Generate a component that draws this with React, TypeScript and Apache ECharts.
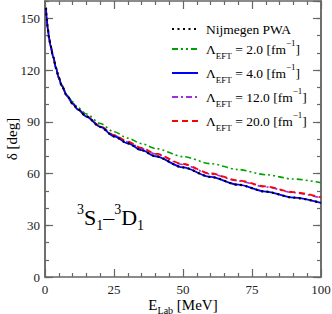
import React, { useEffect, useRef } from 'react';
import * as echarts from 'echarts';

const energies = [0.35, 0.6, 1, 1.5, 2, 3, 4, 5, 6, 8, 10, 12, 15, 20, 25, 30, 35, 40, 50, 60, 70, 80, 90, 100];
const nijmegen = [156, 150, 144, 138.5, 134, 127.5, 121, 115.5, 111, 105, 100.5, 97, 93, 87, 81.5, 77.5, 73.5, 70, 63.5, 58, 53.5, 49.5, 46, 43];
const lam2 = [156, 150, 144, 138.5, 134, 127.5, 121.5, 116, 111.5, 105.5, 101.5, 98, 94.5, 89, 84.2, 80.5, 77.3, 74.5, 69.8, 65.7, 62.3, 59.3, 56.8, 54.6];
const lam4 = [156, 150, 144, 138.5, 134, 127.5, 121, 115.5, 111, 105, 100.5, 97, 93, 87, 81.5, 77.5, 73.5, 70, 63.5, 58, 53.5, 49.5, 46, 43];
const lam12 = [156, 150, 144, 138.5, 134, 127.5, 121, 115.5, 111, 105, 100.6, 97.1, 93.1, 87.4, 82.1, 78.3, 74.6, 71.3, 65.2, 59.7, 55.7, 52.2, 48.9, 45.8];
const lam20 = [156, 150, 144, 138.5, 134, 127.5, 121, 115.5, 111, 105, 100.6, 97.1, 93.2, 87.5, 82.3, 78.5, 74.8, 71.5, 65.5, 60, 56, 52.5, 49.2, 46.2];

const xTicks = [0, 25, 50, 75, 100];
const yTicks = [0, 30, 60, 90, 120, 150];

const FONT = "'Liberation Serif', 'Times New Roman', serif";

const pairs = (ys: number[]) => energies.map((e, i) => [e, ys[i]]);

const legendText: Record<string, string> = {
  'Nijmegen PWA': '{n|Nijmegen PWA}',
  L2: '{n|Λ}{s|EFT}{n| = 2.0 [fm}{p|−1}{n|]}',
  L4: '{n|Λ}{s|EFT}{n| = 4.0 [fm}{p|−1}{n|]}',
  L12: '{n|Λ}{s|EFT}{n| = 12.0 [fm}{p|−1}{n|]}',
  L20: '{n|Λ}{s|EFT}{n| = 20.0 [fm}{p|−1}{n|]}',
};

export default function App() {
  const ref = useRef<HTMLDivElement>(null);
  useEffect(() => {
    const chart = echarts.init(ref.current!, null, { renderer: 'svg' });
    const axisColor = '#666';
    const mkX = (pos: 'bottom' | 'top', labels: boolean) => ({
      type: 'value',
      position: pos,
      min: 0,
      max: 100,
      interval: 25,
      axisLine: { show: true, onZero: false, lineStyle: { color: axisColor, width: 1.5 } },
      axisTick: { show: true, inside: true, length: 8, lineStyle: { color: axisColor, width: 1.2 } },
      minorTick: { show: true, splitNumber: 5, length: 4, lineStyle: { color: axisColor, width: 1.2 } },
      splitLine: { show: false },
      axisLabel: {
        show: labels,
        margin: 6,
        fontFamily: FONT,
        fontSize: 13,
        color: '#222',
        formatter: (v: number) => (xTicks.includes(v) ? String(v) : ''),
      },
    });
    const mkY = (pos: 'left' | 'right', interval: number, len: number, labels: boolean) => ({
      type: 'value',
      position: pos,
      min: 0,
      max: 160,
      interval,
      axisLine: { show: true, onZero: false, lineStyle: { color: axisColor, width: 1.5 } },
      axisTick: { show: true, inside: true, length: len, lineStyle: { color: axisColor, width: 1.2 } },
      splitLine: { show: false },
      axisLabel: {
        show: labels,
        margin: 5,
        showMaxLabel: false,
        fontFamily: FONT,
        fontSize: 13,
        color: '#222',
        formatter: (v: number) => (yTicks.includes(v) ? String(v) : ''),
      },
    });
    const yMain: any = mkY('left', 30, 8, true);
    yMain.name = 'δ [deg]';
    yMain.nameLocation = 'middle';
    yMain.nameRotate = 90;
    yMain.nameGap = 26;
    yMain.nameMoveOverlap = false;
    yMain.nameTextStyle = { fontFamily: FONT, fontSize: 15, color: '#000' };
    const xMain: any = mkX('bottom', true);
    xMain.name = '{n|E}{s|Lab}{n| [MeV]}';
    xMain.nameLocation = 'middle';
    xMain.nameGap = 18;
    xMain.nameMoveOverlap = false;
    xMain.nameTextStyle = {
      fontFamily: FONT,
      rich: {
        n: { fontFamily: FONT, fontSize: 15, lineHeight: 20, verticalAlign: 'middle', color: '#000' },
        s: { fontFamily: FONT, fontSize: 10, lineHeight: 10, verticalAlign: 'bottom', color: '#000' },
      },
    };

    const line = (name: string, data: number[], color: string, type: any, width: number, z: number) => ({
      name,
      type: 'line',
      data: pairs(data),
      xAxisIndex: 0,
      yAxisIndex: 0,
      symbol: 'none',
      smooth: 0.3,
      smoothMonotone: 'x',
      z,
      lineStyle: { color, type, width, cap: 'butt' },
      itemStyle: { color },
    });

    chart.setOption({
      animation: false,
      backgroundColor: '#fff',
      grid: { left: 45, right: 11, top: 1, bottom: 37, containLabel: false, outerBoundsMode: 'none' },
      xAxis: [xMain, mkX('top', false)],
      yAxis: [yMain, mkY('left', 10, 4, false), mkY('right', 30, 8, false), mkY('right', 10, 4, false)],
      legend: {
        orient: 'vertical',
        left: 166,
        top: 17,
        itemWidth: 26,
        itemHeight: 10,
        itemGap: 2,
        itemStyle: { opacity: 0 },
        data: ['Nijmegen PWA', 'L2', 'L4', 'L12', 'L20'],
        formatter: (name: string) => legendText[name],
        textStyle: {
          fontFamily: FONT,
          padding: [0, 0, 0, 3],
          rich: {
            n: { fontFamily: FONT, fontSize: 13.5, lineHeight: 22, verticalAlign: 'middle', color: '#000' },
            s: { fontFamily: FONT, fontSize: 9, lineHeight: 9, verticalAlign: 'bottom', color: '#000' },
            p: { fontFamily: FONT, fontSize: 9, lineHeight: 9, verticalAlign: 'top', color: '#000' },
          },
        },
      },
      graphic: [
        {
          type: 'text',
          left: 77,
          top: 202,
          style: {
            text: '{p|3}{b|S}{s|1}{b|–}{p|3}{b|D}{s|1}',
            fontFamily: FONT,
            rich: {
              b: { fontFamily: FONT, fontSize: 22, lineHeight: 30, verticalAlign: 'middle', fill: '#000' },
              p: { fontFamily: FONT, fontSize: 14, lineHeight: 14, verticalAlign: 'top', fill: '#000' },
              s: { fontFamily: FONT, fontSize: 14, lineHeight: 14, verticalAlign: 'bottom', fill: '#000' },
            },
          },
        },
      ],
      series: [
        line('L2', lam2, '#00a000', [6, 3, 2, 3, 2, 3], 1.6, 2),
        line('L12', lam12, '#9a30e0', [6, 3, 2, 3], 1.6, 3),
        line('L20', lam20, '#ff0000', [6, 4], 1.8, 4),
        line('L4', lam4, '#0000ff', 'solid', 1.8, 5),
        line('Nijmegen PWA', nijmegen, '#000000', [2, 3.5], 2.2, 6),
      ],
    });
    return () => chart.dispose();
  }, []);
  return <div ref={ref} style={{ position: 'fixed', left: 0, top: 0, width: 332, height: 314 }} />;
}
